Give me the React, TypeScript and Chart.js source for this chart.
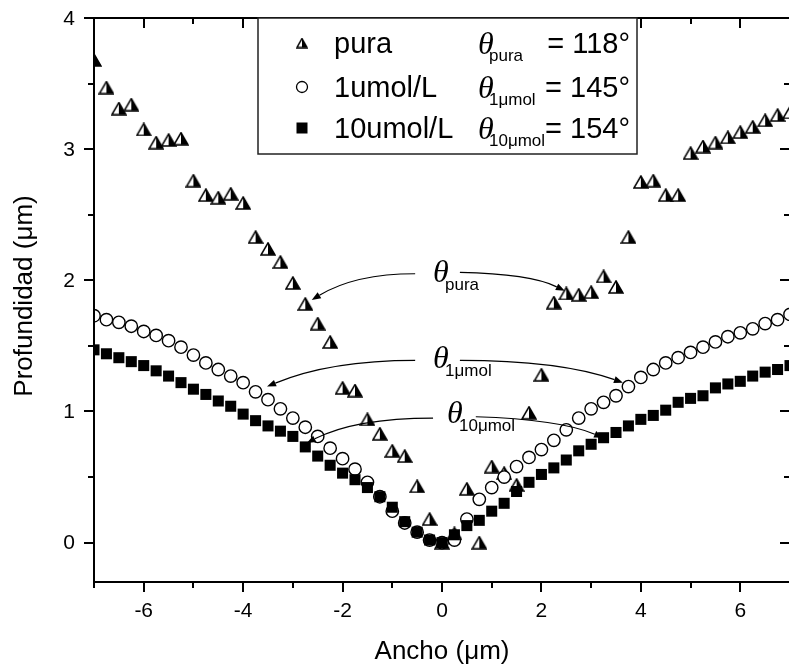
import React, { useEffect, useRef } from "react";
import { Chart, registerables } from "chart.js";

Chart.register(...registerables);

// ---------- data ----------
const POSITIONS = [
  -7, -6.75, -6.5, -6.25, -6, -5.75, -5.5, -5.25, -5, -4.75, -4.5, -4.25, -4, -3.75, -3.5, -3.25,
  -3, -2.75, -2.5, -2.25, -2, -1.75, -1.5, -1.25, -1, -0.75, -0.5, -0.25, 0,
  0.25, 0.5, 0.75, 1, 1.25, 1.5, 1.75, 2, 2.25, 2.5, 2.75, 3, 3.25, 3.5, 3.75, 4,
  4.25, 4.5, 4.75, 5, 5.25, 5.5, 5.75, 6, 6.25, 6.5, 6.75, 7,
];

const PURA = [
  3.68, 3.47, 3.31, 3.34, 3.15, 3.05, 3.07, 3.08, 2.76, 2.65, 2.63, 2.66, 2.59, 2.33, 2.24, 2.14,
  1.98, 1.82, 1.67, 1.53, 1.18, 1.16, 0.94, 0.83, 0.7, 0.66, 0.43, 0.18, 0.0,
  0.07, 0.41, 0.0, 0.58, 0.53, 0.44, 0.99, 1.28, 1.83, 1.9, 1.89, 1.91, 2.03, 1.95, 2.33, 2.75,
  2.76, 2.65, 2.65, 2.97, 3.02, 3.05, 3.09, 3.13, 3.17, 3.22, 3.26, 3.28,
];

const UMOL1 = [
  1.73, 1.7, 1.68, 1.65, 1.61, 1.58, 1.54, 1.49, 1.43, 1.37, 1.32, 1.27, 1.22, 1.15, 1.09, 1.02,
  0.95, 0.88, 0.81, 0.72, 0.64, 0.56, 0.46, 0.35, 0.24, 0.15, 0.08, 0.02, 0.0,
  0.02, 0.18, 0.33, 0.42, 0.5, 0.58, 0.65, 0.71, 0.78, 0.86, 0.95, 1.02, 1.07, 1.12, 1.19, 1.26,
  1.32, 1.37, 1.41, 1.45, 1.49, 1.53, 1.57, 1.6, 1.63, 1.67, 1.7, 1.74,
];

const UMOL10 = [
  1.47, 1.44, 1.41, 1.38, 1.35, 1.31, 1.27, 1.22, 1.17, 1.13, 1.08, 1.04, 0.98, 0.93, 0.89, 0.85,
  0.81, 0.73, 0.66, 0.59, 0.53, 0.48, 0.42, 0.35, 0.27, 0.16, 0.08, 0.02, 0.0,
  0.06, 0.13, 0.17, 0.24, 0.3, 0.39, 0.46, 0.52, 0.57, 0.63, 0.7, 0.75, 0.8, 0.84, 0.89, 0.94,
  0.97, 1.01, 1.07, 1.1, 1.12, 1.18, 1.21, 1.23, 1.27, 1.3, 1.32, 1.35,
];

const SERIES_NAMES = ["pura", "1umol/L", "10umol/L"];
const ANGLE_SUBS = ["pura", "1\u03bcmol", "10\u03bcmol"];
const ANGLE_VALUES = ["= 118\u00b0", "= 145\u00b0", "= 154\u00b0"];

const X_MAJOR = [-6, -4, -2, 0, 2, 4, 6];
const X_MINOR = [-7, -5, -3, -1, 1, 3, 5, 7];
const Y_MAJOR = [0, 1, 2, 3, 4];
const Y_MINOR = [0.5, 1.5, 2.5, 3.5];
const X_TITLE = "Ancho (\u03bcm)";
const Y_TITLE = "Profundidad (\u03bcm)";

// angle annotations (data units): label anchor, left arc [start, ctrl, end], right arc
const ANGLE_LABEL_POS = [
  [-0.18, 1.99],
  [-0.18, 1.33],
  [0.1, 0.91],
];
const ANGLE_LEFT_ARCS = [
  [[-0.54, 2.05], [-1.75, 2.05], [-2.62, 1.85]],
  [[-0.54, 1.39], [-2.25, 1.39], [-3.52, 1.19]],
  [[-0.18, 0.95], [-1.75, 0.95], [-2.72, 0.76]],
];
const ANGLE_RIGHT_ARCS = [
  [[0.36, 2.06], [1.77, 2.05], [2.47, 1.92]],
  [[0.36, 1.39], [2.37, 1.39], [3.64, 1.22]],
  [[0.68, 0.96], [2.37, 0.94], [3.24, 0.8]],
];

// ---------- helpers ----------
const SANS = '"Liberation Sans", Arial, Helvetica, sans-serif';
const SERIF_IT = 'italic 32px "Liberation Serif", "Times New Roman", serif';

function makeTriangle(w: number, h: number): HTMLCanvasElement {
  const c = document.createElement("canvas");
  c.width = w;
  c.height = h;
  const g = c.getContext("2d")!;
  const ax = w / 2, ay = 1, bl = 1, br = w - 1, by = h - 1;
  g.beginPath();
  g.moveTo(ax, ay); g.lineTo(br, by); g.lineTo(bl, by); g.closePath();
  g.fillStyle = "#fff"; g.fill();
  g.beginPath();
  g.moveTo(ax, ay); g.lineTo(br, by); g.lineTo(ax, by); g.closePath();
  g.fillStyle = "#000"; g.fill();
  g.beginPath();
  g.moveTo(ax, ay); g.lineTo(br, by); g.lineTo(bl, by); g.closePath();
  g.lineWidth = 1.5; g.strokeStyle = "#000"; g.stroke();
  return c;
}

let legendTri: HTMLCanvasElement | null = null;

function toPoints(ys: number[]) {
  return POSITIONS.map((x, i) => ({ x, y: ys[i] }));
}

const decorPlugin = {
  id: "decor",
  afterDatasetsDraw(chart: any) {
    const { ctx, chartArea, scales } = chart;
    const { left, right, top, bottom } = chartArea;
    const xs = scales.x, ys = scales.y;
    const px = (v: number) => xs.getPixelForValue(v);
    const py = (v: number) => ys.getPixelForValue(v);
    ctx.save();

    // ---- angle annotations ----
    ctx.strokeStyle = "#000";
    ctx.fillStyle = "#000";
    ctx.lineWidth = 1.2;
    const drawArc = (arc: number[][]) => {
      const [s, c, e] = arc;
      const sx = px(s[0]), sy = py(s[1]);
      const cx = px(c[0]), cy = py(c[1]);
      const ex = px(e[0]), ey = py(e[1]);
      const ang = Math.atan2(ey - cy, ex - cx);
      const L = 9, W = 3.5;
      const bx = ex - L * Math.cos(ang), byy = ey - L * Math.sin(ang);
      ctx.beginPath();
      ctx.moveTo(sx, sy);
      ctx.quadraticCurveTo(cx, cy, bx, byy);
      ctx.stroke();
      ctx.beginPath();
      ctx.moveTo(ex, ey);
      ctx.lineTo(bx + W * Math.sin(ang), byy - W * Math.cos(ang));
      ctx.lineTo(bx - W * Math.sin(ang), byy + W * Math.cos(ang));
      ctx.closePath();
      ctx.fill();
    };
    for (let i = 0; i < ANGLE_SUBS.length; i++) {
      drawArc(ANGLE_LEFT_ARCS[i]);
      drawArc(ANGLE_RIGHT_ARCS[i]);
      const lx = px(ANGLE_LABEL_POS[i][0]), ly = py(ANGLE_LABEL_POS[i][1]);
      ctx.textAlign = "left";
      ctx.textBaseline = "alphabetic";
      ctx.font = SERIF_IT;
      ctx.fillText("\u03b8", lx, ly);
      ctx.font = `17px ${SANS}`;
      ctx.fillText(ANGLE_SUBS[i], lx + 12, ly + 8);
    }

    // ---- frame ----
    ctx.strokeStyle = "#000";
    ctx.lineWidth = 2;
    ctx.strokeRect(left, top, right - left, bottom - top);
    const MAJ = 10, MIN = 6;
    ctx.beginPath();
    for (const v of X_MAJOR) {
      const x = Math.round(px(v));
      ctx.moveTo(x, bottom); ctx.lineTo(x, bottom + MAJ);
      ctx.moveTo(x, top); ctx.lineTo(x, top + MAJ);
    }
    for (const v of X_MINOR) {
      const x = Math.round(px(v));
      ctx.moveTo(x, bottom); ctx.lineTo(x, bottom + MIN);
      ctx.moveTo(x, top); ctx.lineTo(x, top + MIN);
    }
    for (const v of Y_MAJOR) {
      const y = Math.round(py(v));
      ctx.moveTo(left, y); ctx.lineTo(left - MAJ, y);
      ctx.moveTo(right, y); ctx.lineTo(right - MAJ, y);
    }
    for (const v of Y_MINOR) {
      const y = Math.round(py(v));
      ctx.moveTo(left, y); ctx.lineTo(left - MIN, y);
      ctx.moveTo(right, y); ctx.lineTo(right - MIN, y);
    }
    ctx.stroke();

    // ---- tick labels ----
    ctx.fillStyle = "#000";
    ctx.font = `21px ${SANS}`;
    ctx.textAlign = "center";
    ctx.textBaseline = "middle";
    for (const v of X_MAJOR) ctx.fillText(String(v), px(v), bottom + 29);
    ctx.textAlign = "right";
    for (const v of Y_MAJOR) ctx.fillText(String(v), left - 19, py(v) + 1);

    // ---- axis titles ----
    ctx.font = `26px ${SANS}`;
    ctx.textAlign = "center";
    ctx.fillText(X_TITLE, px(0), bottom + 70);
    ctx.save();
    ctx.translate(25, (top + bottom) / 2 - 4);
    ctx.rotate(-Math.PI / 2);
    ctx.fillText(Y_TITLE, 0, 0);
    ctx.restore();

    // ---- legend ----
    const bx0 = left + 164, by0 = top, bw = 379, bh = 136;
    ctx.fillStyle = "#fff";
    ctx.fillRect(bx0, by0, bw, bh);
    ctx.strokeStyle = "#222";
    ctx.lineWidth = 1.5;
    ctx.strokeRect(bx0, by0, bw, bh);
    const baselines = [35, 79, 120];
    const markerX = bx0 + 44;
    for (let i = 0; i < 3; i++) {
      const base = by0 + baselines[i];
      const my = base - 10;
      ctx.fillStyle = "#000";
      ctx.strokeStyle = "#000";
      if (i === 0) {
        if (legendTri) ctx.drawImage(legendTri, markerX - legendTri.width / 2, my - legendTri.height / 2);
      } else if (i === 1) {
        ctx.beginPath();
        ctx.arc(markerX, my, 5.5, 0, Math.PI * 2);
        ctx.fillStyle = "#fff"; ctx.fill();
        ctx.lineWidth = 1.3; ctx.strokeStyle = "#000"; ctx.stroke();
      } else {
        ctx.fillRect(markerX - 5.5, my - 5.5, 11, 11);
      }
      ctx.fillStyle = "#000";
      ctx.textBaseline = "alphabetic";
      ctx.textAlign = "left";
      ctx.font = `29px ${SANS}`;
      ctx.fillText(SERIES_NAMES[i], bx0 + 76, base);
      ctx.font = SERIF_IT;
      ctx.fillText("\u03b8", bx0 + 220, base + 1);
      ctx.font = `17px ${SANS}`;
      ctx.fillText(ANGLE_SUBS[i], bx0 + 231, base + 8);
      ctx.font = `29px ${SANS}`;
      ctx.textAlign = "right";
      ctx.fillText(ANGLE_VALUES[i], bx0 + 372, base);
    }
    ctx.restore();
  },
};

export default function App() {
  const ref = useRef<HTMLCanvasElement | null>(null);
  useEffect(() => {
    document.body.style.margin = "0";
    const canvas = ref.current!;
    const tri = makeTriangle(16, 14);
    legendTri = makeTriangle(12, 11);
    const chart = new Chart(canvas, {
      type: "scatter",
      data: {
        datasets: [
          {
            label: SERIES_NAMES[2],
            data: toPoints(UMOL10),
            pointStyle: "rect",
            pointRadius: 7.8,
            pointBackgroundColor: "#000",
            pointBorderColor: "#000",
            pointBorderWidth: 0,
            showLine: false,
            clip: 0,
            order: 0,
          } as any,
          {
            label: SERIES_NAMES[1],
            data: toPoints(UMOL1),
            pointStyle: "circle",
            pointRadius: 6.2,
            pointBackgroundColor: "#fff",
            pointBorderColor: "#000",
            pointBorderWidth: 1.4,
            showLine: false,
            clip: 0,
            order: 1,
          } as any,
          {
            label: SERIES_NAMES[0],
            data: toPoints(PURA),
            pointStyle: tri,
            pointRadius: 7,
            showLine: false,
            clip: 0,
            order: 2,
          } as any,
        ],
      },
      options: {
        responsive: false,
        animation: false,
        events: [],
        layout: { padding: { left: 94, right: 10, top: 18, bottom: 86 } },
        scales: {
          x: { type: "linear", min: -7, max: 7, display: false },
          y: { type: "linear", min: -0.3, max: 4, display: false },
        },
        plugins: {
          legend: { display: false },
          tooltip: { enabled: false },
        },
      },
      plugins: [decorPlugin],
    });
    return () => chart.destroy();
  }, []);

  return (
    <div style={{ width: 789, height: 668, overflow: "hidden", position: "relative", background: "#fff" }}>
      <canvas ref={ref} width={800} height={668} style={{ display: "block", width: 800, height: 668 }} />
    </div>
  );
}
